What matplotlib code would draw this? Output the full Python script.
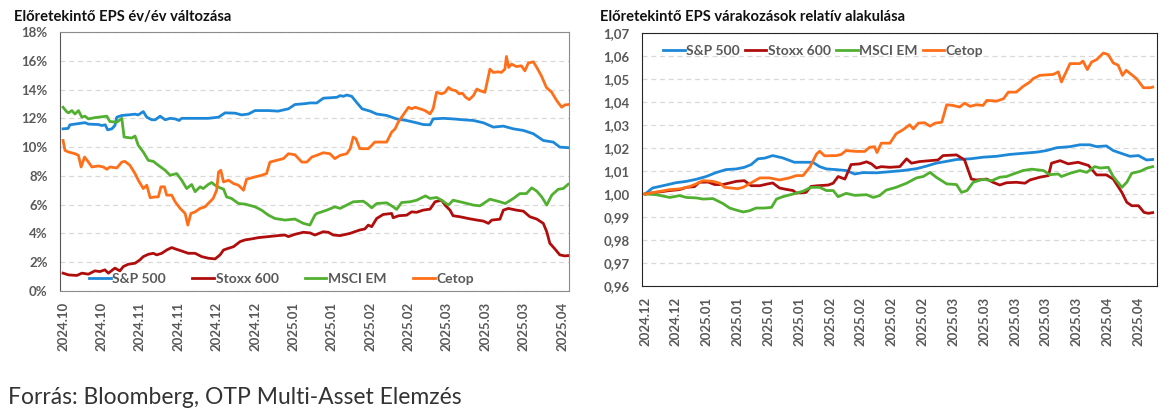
import matplotlib
matplotlib.use("Agg")
import matplotlib.pyplot as plt
from matplotlib.ticker import FuncFormatter

plt.rcParams["font.family"] = ["Lato", "DejaVu Sans"]

BLUE, RED, GREEN, ORANGE = "#1e88d8", "#b00d0d", "#52b030", "#ff6f1a"
GREY = "#595959"
NAMES = ["S&P 500", "Stoxx 600", "MSCI EM", "Cetop"]

# ---- left chart: forward EPS y/y change (%), x = trading-day index ----
L_TICKS = ["2024.10", "2024.10", "2024.11", "2024.11", "2024.12", "2024.12", "2025.01",
           "2025.01", "2025.02", "2025.02", "2025.03", "2025.03", "2025.03", "2025.04"]

L_SP_X = [0, 1.3, 1.8, 3.1, 5.7, 6.6, 9.2, 10.1, 11.0, 11.6, 12.7, 13.5, 14.0, 15.3, 17.0, 18.75,
          19.6, 20.9, 21.8, 23.1, 24.0, 25.3, 26.6, 27.9, 29.2, 30.2, 30.9, 34.4, 37.8, 40.5, 42.2,
          44.8, 46.5, 48.3, 50.0, 53.5, 56.0, 58.7, 60.4, 63.0, 64.3, 66.1, 67.8, 71.3, 72.2, 73.0,
          73.9, 75.2, 76.5, 77.9, 80.0, 81.7, 84.3, 86.9, 89.5, 92.1, 93.8, 95.6, 96.4, 99.1, 101.6,
          104.2, 106.9, 109.5, 112.1, 114.7, 117.3, 119.9, 122.5, 125.1, 127.7, 129.4, 131.6]
L_SP_Y = [11.27, 11.3, 11.55, 11.6, 11.7, 11.6, 11.57, 11.5, 11.55, 11.2, 11.27, 11.5, 12.08, 12.2,
          12.24, 12.29, 12.24, 12.47, 12.08, 11.9, 11.9, 12.15, 11.9, 12.0, 11.96, 11.85, 12.0, 12.0,
          12.0, 12.08, 12.38, 12.36, 12.24, 12.3, 12.54, 12.54, 12.5, 12.66, 12.96, 13.02, 13.07,
          13.07, 13.4, 13.46, 13.58, 13.53, 13.62, 13.53, 13.1, 12.66, 12.5, 12.3, 12.2, 11.96, 11.85,
          11.69, 11.57, 11.55, 11.96, 12.0, 11.96, 11.9, 11.85, 11.69, 11.39, 11.46, 11.27, 11.16,
          10.93, 10.46, 10.35, 10.0, 9.96]

L_STOXX_X = [0, 1.4, 3.6, 4.9, 6.6, 8.3, 9.6, 10.9, 11.8, 13.5, 14.8, 15.7, 17.0, 18.75, 20.0, 20.9,
             22.2, 23.5, 24.4, 25.7, 27.0, 28.3, 29.2, 30.9, 32.6, 34.4, 36.1, 37.8, 39.6, 40.9, 41.8,
             43.1, 44.4, 46.1, 47.4, 49.1, 50.9, 53.5, 56.0, 57.8, 58.7, 60.4, 62.6, 64.3, 65.6, 67.8,
             69.1, 70.4, 72.2, 74.7, 77.3, 78.6, 79.5, 80.4, 81.7, 83.4, 85.6, 86.0, 87.4, 89.5, 90.8,
             92.1, 93.8, 95.6, 96.9, 98.6, 99.5, 100.8, 101.6, 103.4, 105.5, 107.8, 109.5, 110.8,
             111.7, 113.8, 114.7, 116.0, 118.1, 119.9, 121.6, 123.4, 125.1, 126.0, 126.8, 128.1,
             129.4, 130.7, 131.6]
L_STOXX_Y = [1.24, 1.12, 1.08, 1.24, 1.17, 1.4, 1.35, 1.47, 1.24, 1.59, 1.4, 1.7, 1.86, 1.93, 2.16,
             2.39, 2.55, 2.62, 2.51, 2.62, 2.85, 3.02, 2.93, 2.78, 2.62, 2.62, 2.39, 2.28, 2.23, 2.51,
             2.85, 2.97, 3.08, 3.43, 3.55, 3.62, 3.71, 3.78, 3.85, 3.89, 3.78, 3.94, 4.08, 4.04, 3.89,
             4.12, 4.08, 3.89, 3.85, 4.0, 4.24, 4.31, 4.58, 4.47, 5.04, 5.32, 5.39, 5.09, 5.23, 5.27,
             5.5, 5.47, 5.62, 5.69, 6.2, 6.31, 5.97, 5.62, 5.23, 5.16, 5.04, 4.93, 4.86, 4.7, 4.93,
             4.99, 5.62, 5.74, 5.62, 5.55, 5.16, 5.0, 4.7, 4.12, 3.32, 2.93, 2.51, 2.44, 2.46]

L_EM_X = [0, 0.9, 1.4, 2.3, 3.1, 4.0, 4.9, 5.7, 6.6, 8.3, 11.4, 12.2, 14.0, 15.3, 15.9, 17.9, 18.75,
          19.6, 20.9, 22.2, 23.5, 24.8, 26.6, 27.9, 29.6, 30.9, 32.2, 33.5, 34.4, 35.7, 36.5, 37.8,
          38.7, 39.6, 40.9, 41.8, 42.6, 43.9, 45.7, 47.4, 50.0, 51.7, 53.5, 55.2, 57.8, 60.4, 62.6,
          64.3, 65.6, 66.1, 67.4, 68.7, 70.8, 72.2, 73.0, 75.6, 78.2, 79.1, 80.4, 81.7, 84.3, 86.0,
          86.9, 88.2, 90.4, 92.1, 94.4, 95.6, 97.3, 98.6, 100.4, 101.6, 104.2, 106.9, 108.6, 111.2,
          113.8, 115.2, 117.3, 119.0, 120.7, 122.1, 123.4, 124.7, 126.0, 127.3, 129.0, 130.3, 131.6]
L_EM_Y = [12.77, 12.47, 12.38, 12.54, 12.3, 12.54, 12.08, 12.15, 11.96, 12.05, 12.15, 11.78, 11.73,
          12.0, 10.7, 10.63, 10.77, 10.12, 9.66, 9.08, 9.01, 8.74, 8.39, 8.04, 8.16, 7.7, 7.12, 7.4,
          6.9, 7.24, 7.12, 7.4, 7.54, 7.35, 7.17, 7.08, 6.54, 6.43, 6.08, 6.04, 5.85, 5.62, 5.27, 5.04,
          4.93, 5.0, 4.7, 4.58, 5.27, 5.39, 5.5, 5.62, 5.85, 5.74, 5.85, 6.2, 6.24, 6.08, 5.78, 6.08,
          6.13, 5.85, 5.67, 6.15, 6.2, 6.31, 6.61, 6.43, 6.5, 6.31, 5.97, 6.31, 6.15, 5.97, 5.92, 6.38,
          6.2, 6.08, 6.43, 6.77, 6.77, 7.17, 6.94, 6.54, 5.97, 6.66, 7.07, 7.12, 7.42]

L_CETOP_X = [0, 0.5, 1.4, 3.1, 4.0, 4.7, 5.6, 6.6, 7.5, 9.2, 10.5, 11.4, 12.2, 14.0, 15.3, 16.1, 17.4,
             18.75, 19.6, 20.9, 21.8, 22.7, 24.0, 24.8, 25.5, 26.4, 27.0, 28.3, 29.2, 30.5, 31.8, 32.5,
             33.3, 34.4, 35.7, 37.0, 37.8, 39.1, 40.0, 40.5, 41.1, 41.8, 43.1, 44.4, 45.7, 47.0, 47.8,
             50.0, 51.7, 53.0, 53.9, 55.6, 57.4, 58.7, 60.4, 62.2, 63.5, 64.8, 66.1, 67.8, 69.5, 70.8,
             72.2, 73.9, 74.8, 75.6, 76.3, 77.3, 79.5, 80.4, 81.2, 84.3, 85.6, 86.5, 87.3, 89.1, 90.0,
             90.8, 91.7, 93.0, 94.3, 95.6, 96.4, 97.3, 98.6, 99.5, 100.4, 101.2, 102.3, 103.2, 104.0,
             104.9, 105.8, 106.9, 107.8, 108.6, 109.9, 111.2, 112.1, 113.4, 114.2, 115.1, 115.5, 116.1,
             116.8, 118.1, 119.4, 120.3, 121.2, 122.5, 123.4, 124.6, 125.9, 127.3, 128.6, 129.9, 130.7,
             131.6]
L_CETOP_Y = [10.46, 9.77, 9.66, 9.54, 9.43, 8.62, 9.31, 8.96, 8.62, 8.69, 8.62, 8.46, 8.62, 8.55,
             8.96, 9.01, 8.74, 8.16, 7.7, 7.12, 7.35, 6.48, 6.54, 6.54, 7.24, 7.24, 6.66, 6.66, 6.2,
             5.74, 5.39, 4.58, 5.39, 5.5, 5.74, 5.85, 6.08, 6.43, 7.0, 8.27, 8.39, 7.58, 7.7, 7.47, 7.35,
             7.0, 7.77, 7.93, 8.04, 8.16, 8.96, 9.08, 9.2, 9.54, 9.47, 8.96, 8.96, 9.31, 9.43, 9.61,
             9.54, 9.2, 9.43, 9.54, 9.89, 10.7, 10.58, 9.89, 9.89, 10.12, 10.35, 10.35, 11.04, 11.27,
             11.73, 12.43, 12.77, 12.66, 12.77, 12.66, 12.54, 12.31, 12.66, 13.81, 13.7, 13.81, 14.15,
             13.99, 13.92, 13.7, 13.75, 13.46, 13.3, 13.58, 14.04, 13.92, 13.81, 15.42, 15.19, 15.23,
             15.19, 15.42, 16.3, 15.54, 15.77, 15.6, 15.65, 15.3, 15.84, 15.93, 15.54, 14.96, 14.15,
             13.81, 13.23, 12.77, 12.93, 12.96]

# ---- right chart: forward EPS relative to start (=1), x = trading-day index ----
R_TICKS = ["2024.12", "2024.12", "2025.01", "2025.01", "2025.01", "2025.01", "2025.02", "2025.02",
           "2025.02", "2025.02", "2025.03", "2025.03", "2025.03", "2025.03", "2025.03", "2025.04",
           "2025.04"]

R_SP_X = [0, 1.2, 2.9, 5.0, 6.7, 8.3, 9.9, 11.5, 13.1, 14.8, 16.1, 17.2, 18.3, 19.4, 20.7, 22.3,
          24.2, 26.1, 27.2, 28.3, 29.4, 31.0, 32.6, 34.0, 35.3, 37.5, 39.7, 41.8, 44.0, 45.6, 47.2,
          48.9, 50.5, 52.7, 54.8, 57.0, 59.1, 61.3, 63.5, 65.1, 66.7, 68.9, 70.5, 72.1, 73.2, 74.8,
          75.9, 77.5, 78.6, 80.0, 81.3, 82.3]
R_SP_Y = [1.0, 1.0026, 1.0036, 1.0049, 1.0055, 1.0064, 1.0076, 1.0093, 1.0106, 1.0109, 1.0116,
          1.0128, 1.0153, 1.0156, 1.0167, 1.0157, 1.0138, 1.0138, 1.0138, 1.0119, 1.0109, 1.0106,
          1.0102, 1.0087, 1.0093, 1.0092, 1.0097, 1.0102, 1.011, 1.0121, 1.0134, 1.0142, 1.015,
          1.0153, 1.016, 1.0164, 1.0172, 1.0177, 1.0182, 1.0189, 1.0201, 1.0206, 1.0214, 1.0214,
          1.0206, 1.0209, 1.0189, 1.0174, 1.0164, 1.0167, 1.0148, 1.015]

R_STOXX_X = [0, 1.8, 4.0, 5.6, 6.7, 8.0, 8.8, 10.2, 11.3, 12.6, 14.8, 16.1, 17.2, 18.6, 19.9, 20.7,
             21.8, 22.9, 24.0, 24.5, 26.1, 26.9, 28.0, 29.7, 30.5, 31.3, 32.4, 33.4, 34.8, 35.9, 36.7,
             37.5, 38.3, 39.7, 41.3, 42.4, 43.2, 44.5, 46.2, 47.5, 48.3, 50.5, 51.8, 52.9, 53.7, 55.4,
             56.4, 57.5, 58.6, 60.2, 61.6, 62.4, 64.0, 65.4, 65.9, 67.3, 68.6, 70.2, 71.9, 73.2, 74.8,
             75.9, 77.3, 78.1, 78.9, 80.0, 80.9, 81.6, 82.3]
R_STOXX_Y = [1.0, 1.0007, 1.0015, 1.0019, 1.0029, 1.0032, 1.0051, 1.0052, 1.0041, 1.0041, 1.0055,
             1.0058, 1.0036, 1.0036, 1.0044, 1.0048, 1.0026, 1.002, 1.0015, 1.0004, 1.0007, 1.0033,
             1.0036, 1.0039, 1.0047, 1.0076, 1.0065, 1.0128, 1.0131, 1.014, 1.0131, 1.0113, 1.0119,
             1.0116, 1.0119, 1.0153, 1.0134, 1.0141, 1.0145, 1.0148, 1.0167, 1.017, 1.0148, 1.0065,
             1.0061, 1.0065, 1.0051, 1.0039, 1.0049, 1.0051, 1.0047, 1.0061, 1.0073, 1.008, 1.0134,
             1.0145, 1.0131, 1.0138, 1.0124, 1.0083, 1.0083, 1.0065, 1.0007, 0.9964, 0.9949, 0.9949,
             0.992, 0.9916, 0.9919]

R_EM_X = [0, 1.8, 4.0, 5.6, 6.7, 8.3, 9.4, 11.0, 12.6, 13.7, 14.8, 15.9, 16.9, 18.0, 19.4, 20.5,
          21.3, 22.3, 24.0, 25.6, 26.9, 28.3, 29.4, 30.5, 31.3, 32.6, 34.0, 35.9, 37.0, 38.0, 39.1,
          40.7, 42.4, 44.0, 45.1, 46.2, 47.2, 48.9, 50.5, 51.3, 52.2, 53.2, 54.8, 56.2, 57.5, 58.6,
          59.7, 61.3, 62.7, 64.6, 65.6, 67.0, 67.5, 68.9, 70.5, 71.6, 72.9, 73.8, 75.1, 75.9, 77.3,
          78.1, 78.9, 80.3, 81.4, 82.3]
R_EM_Y = [1.0, 0.9997, 0.9985, 0.9993, 0.9985, 0.9983, 0.9978, 0.998, 0.9959, 0.9939, 0.993, 0.9922,
          0.9927, 0.9939, 0.9939, 0.9942, 0.9978, 0.9988, 1.0, 1.0012, 1.0029, 1.0029, 1.0015, 1.0015,
          0.9988, 1.0003, 0.9994, 0.9997, 0.9985, 0.9993, 1.0017, 1.0029, 1.0047, 1.007, 1.0076,
          1.0094, 1.0073, 1.0044, 1.0041, 1.0007, 1.0015, 1.0051, 1.0064, 1.0058, 1.0073, 1.0076,
          1.0087, 1.0102, 1.0108, 1.0102, 1.0084, 1.0087, 1.0076, 1.009, 1.0102, 1.0094, 1.0119,
          1.0113, 1.0116, 1.0076, 1.0029, 1.0051, 1.009, 1.0099, 1.0113, 1.0119]

R_CETOP_X = [0, 4.0, 5.6, 7.2, 8.3, 9.4, 11.0, 12.1, 12.9, 15.0, 15.9, 16.9, 18.6, 20.2, 21.8, 23.4,
             24.5, 25.6, 26.7, 27.8, 28.3, 29.1, 31.0, 31.8, 32.6, 34.3, 35.6, 36.4, 37.2, 37.6, 38.3,
             39.7, 40.7, 41.8, 42.9, 43.5, 44.3, 45.3, 46.2, 47.0, 48.1, 48.9, 49.9, 51.0, 51.8, 52.7,
             53.7, 54.8, 55.4, 57.0, 58.1, 58.9, 60.2, 61.3, 62.4, 62.9, 64.0, 66.2, 67.0, 67.5, 68.9,
             70.5, 71.0, 71.7, 72.4, 73.2, 74.3, 75.1, 75.9, 76.7, 77.4, 78.0, 79.2, 79.7, 80.8, 81.9,
             82.3]
R_CETOP_Y = [1.0, 1.0019, 1.0022, 1.0032, 1.0044, 1.0058, 1.0055, 1.0047, 1.0029, 1.0023, 1.0029,
             1.0044, 1.007, 1.007, 1.0061, 1.007, 1.008, 1.008, 1.0116, 1.0174, 1.0186, 1.0166, 1.0167,
             1.0172, 1.0189, 1.0185, 1.0185, 1.0203, 1.0206, 1.018, 1.0221, 1.0221, 1.0262, 1.0279,
             1.0301, 1.0283, 1.0308, 1.031, 1.0295, 1.0308, 1.0312, 1.0388, 1.0385, 1.0378, 1.0395,
             1.0381, 1.0388, 1.0385, 1.0407, 1.0404, 1.0414, 1.0443, 1.0443, 1.0468, 1.0487, 1.0501,
             1.0516, 1.052, 1.0531, 1.0487, 1.0567, 1.0567, 1.0578, 1.0541, 1.0574, 1.0584, 1.0613,
             1.0606, 1.057, 1.056, 1.0516, 1.0538, 1.0512, 1.0501, 1.0462, 1.0462, 1.0465]

W, H = 1170, 420
fig = plt.figure(figsize=(W / 100, H / 100), dpi=100)
axL = fig.add_axes([60 / W, 1 - 291 / H, 509 / W, 259 / H])
axR = fig.add_axes([642 / W, 1 - 286 / H, 515 / W, 253 / H])

left_series = [(L_SP_X, L_SP_Y), (L_STOXX_X, L_STOXX_Y), (L_EM_X, L_EM_Y), (L_CETOP_X, L_CETOP_Y)]
right_series = [(R_SP_X, R_SP_Y), (R_STOXX_X, R_STOXX_Y), (R_EM_X, R_EM_Y), (R_CETOP_X, R_CETOP_Y)]
colors = [BLUE, RED, GREEN, ORANGE]

for (x, y), c, n in zip(left_series, colors, NAMES):
    axL.plot(x, y, color=c, lw=2.0, label=n, solid_joinstyle="round")
for (x, y), c, n in zip(right_series, colors, NAMES):
    axR.plot(x, y, color=c, lw=2.0, label=n, solid_joinstyle="round")

# left axes
axL.set_xlim(-0.8, 131.8)
axL.set_ylim(0, 18)
axL.set_yticks(range(0, 19, 2))
axL.yaxis.set_major_formatter(FuncFormatter(lambda v, _: f"{v:.0f}%"))
axL.set_xticks(range(0, 10 * len(L_TICKS), 10))
axL.set_xticklabels(L_TICKS, rotation=90)
for s in axL.spines.values():
    s.set_color("#8c8c8c")
axL.spines["left"].set_color("#595959")

# right axes
axR.set_xlim(-0.5, 83.0)
axR.set_ylim(0.96, 1.07)
axR.set_yticks([0.96 + 0.01 * k for k in range(12)])
axR.yaxis.set_major_formatter(FuncFormatter(lambda v, _: f"{v:.2f}".replace(".", ",")))
axR.set_xticks(range(0, 5 * len(R_TICKS), 5))
axR.set_xticklabels(R_TICKS, rotation=90)
for s in axR.spines.values():
    s.set_color("#262626")

for ax in (axL, axR):
    ax.yaxis.grid(True, ls=(0, (4, 3)), color="#d9d9d9", lw=0.9)
    ax.set_axisbelow(True)
    ax.tick_params(length=0, labelsize=9.5, labelcolor=GREY)
    ax.tick_params(axis="y", pad=9)
    ax.tick_params(axis="x", pad=8)
    for t in ax.get_xticklabels() + ax.get_yticklabels():
        t.set_fontweight("bold")

legL = axL.legend(loc="center left", bbox_to_anchor=(0.057, 0.046), ncol=4, frameon=False,
                  fontsize=10, handlelength=1.55, handletextpad=0.12, columnspacing=1.9,
                  borderpad=0, borderaxespad=0)
legR = axR.legend(loc="center left", bbox_to_anchor=(0.041, 0.929), ncol=4, frameon=False,
                  fontsize=10, handlelength=1.55, handletextpad=0.12, columnspacing=0.35,
                  borderpad=0, borderaxespad=0)
for leg in (legL, legR):
    for t in leg.get_texts():
        t.set_color(GREY)
        t.set_fontweight("bold")

fig.text(14 / W, 1 - 17 / H, "Előretekintő EPS év/év változása", fontsize=10.6, fontweight="bold",
         va="center", color="#111111")
fig.text(600 / W, 1 - 17 / H, "Előretekintő EPS várakozások relatív alakulása", fontsize=10.6,
         fontweight="bold", va="center", color="#111111")
fig.text(8 / W, 1 - 397 / H, "Forrás: Bloomberg, OTP Multi-Asset Elemzés", fontsize=16.5,
         va="center", color="#333333")

fig.savefig("out.png", dpi=100)
